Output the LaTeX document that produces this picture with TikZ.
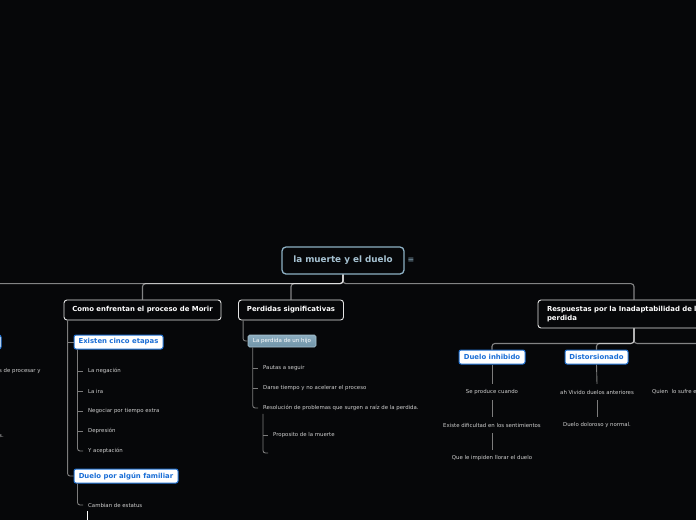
\documentclass[tikz,border=0pt]{standalone}
\usepackage{fontspec}
\setmainfont{DejaVu Sans}
\definecolor{bg}{HTML}{060709}
\definecolor{rootc}{HTML}{8DB0C4}
\definecolor{roottxt}{HTML}{A6C2D2}
\definecolor{hdr}{HTML}{E4E4E4}
\definecolor{bluec}{HTML}{1E6FD0}
\definecolor{bluetxt}{HTML}{1A6ED6}
\definecolor{txt}{HTML}{CFCFCF}
\definecolor{linec}{HTML}{7C7C7C}
\definecolor{hijotop}{HTML}{8CADC0}
\definecolor{hijobot}{HTML}{6F93A8}
\definecolor{hijoborder}{HTML}{A8C4D2}
\tikzset{
 rootbox/.style={draw=rootc, line width=1.3pt, rounded corners=4pt, fill=bg, text=roottxt, font=\fontsize{8.8}{10}\selectfont\bfseries, minimum width=122pt, minimum height=27pt, inner sep=0pt},
 hdrbox/.style={draw=hdr, line width=0.9pt, rounded corners=3pt, fill=bg, text=white, font=\fontsize{6.9}{9}\selectfont\bfseries, minimum height=20pt, inner sep=0pt},
 bluebox/.style={draw=bluec, line width=1pt, rounded corners=2pt, fill=white, text=bluetxt, font=\fontsize{6.9}{8}\selectfont\bfseries, minimum height=14pt, inner sep=0pt},
 hijobox/.style={draw=hijoborder, line width=0.6pt, rounded corners=1.5pt, top color=hijotop, bottom color=hijobot, text=white, font=\fontsize{5.5}{7}\selectfont, minimum height=12pt, minimum width=68pt, inner sep=0pt},
 leaf/.style={anchor=west, text=txt, font=\fontsize{5.4}{7}\selectfont, inner sep=0pt},
 cleaf/.style={text=txt, font=\fontsize{5.4}{7}\selectfont, inner sep=0pt, minimum height=16pt},
 rc/.style={draw=white, draw opacity=0.5, line width=1.1pt, rounded corners=3pt},
 conn/.style={draw=linec, line width=0.9pt, rounded corners=2.5pt},
}
\begin{document}
\begin{tikzpicture}[x=1pt,y=-1pt]
\useasboundingbox (0,0) rectangle (696,520);
\fill[bg] (0,0) rectangle (696,520);
\clip (0,0) rectangle (696,520);

% root
\node[rootbox] (root) at (343,260.5) {la muerte y el duelo};
\node[text=rootc, font=\fontsize{8}{9}\selectfont, inner sep=0pt] (menu) at (411,260) {≡};

% main children
\coordinate (lc) at (-60,300);
\node[hdrbox, minimum width=157pt] (como) at (142.5,310) {Como enfrentan el proceso de Morir};
\node[hdrbox, minimum width=105pt] (perd) at (291,310) {Perdidas significativas};
\node[hdrbox, minimum width=192pt, minimum height=28pt, align=left, text width=174pt] (resp) at (634,314) {Respuestas por la Inadaptabilidad de la\\perdida};

\draw[rc] (root.south) -- ([yshift=-9pt]root.south) -| (lc);
\draw[rc] (root.south) -- ([yshift=-9pt]root.south) -| (como.north);
\draw[rc] (root.south) -- ([yshift=-9pt]root.south) -| (perd.north);
\draw[rc] (root.south) -- ([yshift=-9pt]root.south) -| (resp.north);

% off-screen left branch remnants
\node[bluebox, minimum width=80pt, anchor=east] (leftblue) at (1.5,342) {};
\node[leaf] (lt1) at (-1,371) {s de procesar y};
\node[leaf] (lt2) at (-1,436) {s.};

% Como enfrentan
\node[bluebox, minimum width=89pt] (etapas) at (118.5,342) {Existen cinco etapas};
\node[bluebox, minimum width=104pt] (duelofam) at (126,476) {Duelo por algún familiar};
\coordinate (cv) at ([xshift=4pt]como.south west);
\draw[conn] (cv) |- (duelofam.west);
\draw[conn] (cv |- etapas.west) -- (etapas.west);

\node[leaf] (neg) at (88,371) {La negación};
\node[leaf] (ira) at (88,391) {La ira};
\node[leaf] (nego) at (88,411) {Negociar por tiempo extra};
\node[leaf] (dep) at (88,431) {Depresión};
\node[leaf] (yac) at (88,451) {Y aceptación};
\coordinate (ev) at ([xshift=4pt]etapas.south west);
\draw[conn] (ev) |- ([xshift=-5pt]yac.west);
\foreach \n in {neg,ira,nego,dep}{\draw[conn] (ev |- \n.west) -- ([xshift=-5pt]\n.west);}

\node[leaf] (camb) at (88,505) {Cambian de estatus};
\coordinate (dv) at ([xshift=4pt]duelofam.south west);
\draw[conn] (dv) |- ([xshift=-5pt]camb.west);
\coordinate (cb1) at (87,511);
\coordinate (cb2) at (87,530);
\draw[white, line width=1pt] (cb1) -- (cb2);

% Perdidas significativas
\node[hijobox] (hijo) at (282,341) {La perdida de un hijo};
\coordinate (pv) at ([xshift=5pt]perd.south west);
\draw[conn] (pv) |- (hijo.west);
\node[leaf] (paut) at (263,368) {Pautas a seguir};
\node[leaf] (darse) at (263,388) {Darse tiempo y no acelerar el proceso};
\node[leaf] (resol) at (263,408) {Resolución de problemas que surgen a raíz de la perdida.};
\coordinate (hv) at ([xshift=5pt]hijo.south west);
\draw[conn] (hv) |- ([xshift=-5pt]resol.west);
\foreach \n in {paut,darse}{\draw[conn] (hv |- \n.west) -- ([xshift=-5pt]\n.west);}
\node[leaf] (prop) at (273,435) {Proposito de la muerte};
\coordinate (emp) at (268,453);
\coordinate (rv) at ([yshift=-3pt]resol.south west);
\draw[conn] (rv) |- (emp);
\draw[conn] (rv |- prop.west) -- ([xshift=-5pt]prop.west);

% Respuestas
\node[bluebox, minimum width=66pt] (inhib) at (492,357) {Duelo inhibido};
\node[bluebox, minimum width=63pt] (dist) at (596.5,357) {Distorsionado};
\coordinate (third) at (740,350);
\draw[rc] (resp.south) -- ([yshift=-15pt]resp.south) -| (inhib.north);
\draw[rc] (resp.south) -- ([yshift=-15pt]resp.south) -| (dist.north);
\draw[rc] (resp.south) -- ([yshift=-15pt]resp.south) -| (third);

\node[cleaf] (sep) at (492,392) {Se produce cuando};
\node[cleaf] (exd) at (492,425) {Existe dificultad en los sentimientos};
\node[cleaf] (que) at (492,458) {Que le impiden llorar el duelo};
\draw[conn] (inhib.south) -- (sep.north);
\draw[conn] (sep.south) -- (exd.north);
\draw[conn] (exd.south) -- (que.north);

\node[cleaf] (ahv) at (597,392) {ah Vivido duelos anteriores};
\node[cleaf] (ddn) at (597,425) {Duelo doloroso y normal.};
\draw[conn] (dist.south) -- (ahv.north);
\draw[conn] (ahv.south) -- (ddn.north);

\node[leaf] (quien) at (652,392) {Quien\ \ lo sufre e};
\end{tikzpicture}
\end{document}
